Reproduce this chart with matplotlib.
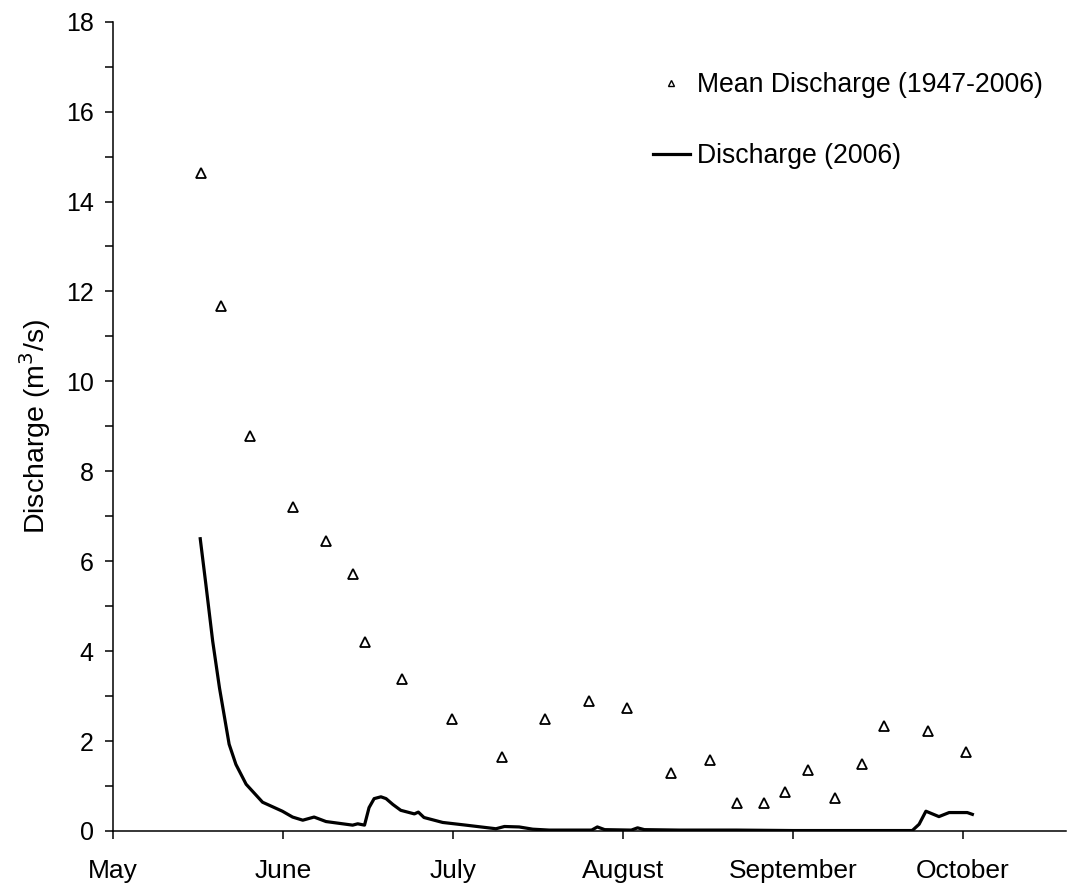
import matplotlib
matplotlib.use("Agg")
import matplotlib.pyplot as plt
from matplotlib.lines import Line2D
from matplotlib.ticker import MultipleLocator

plt.rcParams['font.family'] = ['Liberation Sans', 'DejaVu Sans']

# Mean discharge (1947-2006): day offset from May 1, value (m3/s)
mean_days = [15.6, 19.1, 24.1, 31.8, 37.6, 42.4, 44.4, 51.1, 59.8, 68.6, 76.2,
             84.0, 90.7, 98.5, 105.3, 110.1, 114.9, 118.7, 122.7, 127.4, 132.2,
             136.1, 143.8, 150.6]
mean_vals = [14.63, 11.67, 8.78, 7.21, 6.44, 5.71, 4.21, 3.38, 2.50, 1.65, 2.48,
             2.90, 2.73, 1.28, 1.57, 0.63, 0.63, 0.87, 1.35, 0.73, 1.48,
             2.33, 2.22, 1.76]

# Discharge 2006
q_days = [15.4, 16.4, 17.6, 18.8, 20.5, 21.7, 23.5, 26.4, 29.9, 31.7, 33.5, 35.5,
          37.6, 42.3, 43.2, 44.4, 45.2, 46.1, 47.3, 48.2, 49.4, 50.8, 53.2, 53.9,
          54.9, 58.2, 62.3, 67.6, 69.1, 71.7, 74.1, 77.0, 84.5, 85.5, 86.8, 91.5,
          92.6, 93.8, 100.0, 110.0, 120.0, 130.0, 141.1, 142.3, 143.5, 145.8,
          147.6, 150.8, 151.7]
q_vals = [6.50, 5.48, 4.22, 3.18, 1.93, 1.48, 1.04, 0.64, 0.44, 0.31, 0.24, 0.31,
          0.21, 0.13, 0.16, 0.13, 0.52, 0.72, 0.76, 0.72, 0.59, 0.46, 0.38, 0.42,
          0.30, 0.19, 0.13, 0.05, 0.10, 0.09, 0.04, 0.02, 0.02, 0.09, 0.03, 0.02,
          0.07, 0.03, 0.02, 0.02, 0.01, 0.01, 0.01, 0.15, 0.44, 0.32,
          0.41, 0.41, 0.37]

month_ticks = [0, 30, 60, 90, 120, 150]
month_labels = ['May', 'June', 'July', 'August', 'September', 'October']

fig = plt.figure(figsize=(10.67, 8.88), dpi=100)
ax = fig.add_axes([0.1059, 0.0642, 0.893, 0.9114])

ax.plot(q_days, q_vals, color='black', lw=2.3, solid_joinstyle='round',
        label='Discharge (2006)')
ax.plot(mean_days, mean_vals, linestyle='none', marker='^', markersize=7.5,
        markerfacecolor='white', markeredgecolor='black', markeredgewidth=1.3)

ax.set_xlim(0, 168.2)
ax.set_ylim(0, 18)
ax.set_xticks(month_ticks)
ax.set_xticklabels(month_labels)
ax.yaxis.set_major_locator(MultipleLocator(2))
ax.yaxis.set_minor_locator(MultipleLocator(1))
ax.tick_params(axis='both', which='major', direction='out',
               length=6, width=1.1, color='black')
ax.tick_params(axis='y', which='major', labelsize=18, pad=8)
ax.tick_params(axis='x', which='major', labelsize=19, pad=14)
ax.tick_params(axis='y', which='minor', direction='out', length=6, width=1.1)
for s in ['top', 'right']:
    ax.spines[s].set_visible(False)
for s in ['left', 'bottom']:
    ax.spines[s].set_linewidth(1.1)
ax.set_ylabel('Discharge (m$^3$/s)', fontsize=20.5, labelpad=9)

h1 = Line2D([], [], linestyle='none', marker='^', markersize=5,
            markerfacecolor='white', markeredgecolor='black', markeredgewidth=1.0)
h2 = Line2D([], [], color='black', lw=2.3)
ax.legend([h1, h2], ['Mean Discharge (1947-2006)', 'Discharge (2006)'],
          loc='upper left', bbox_to_anchor=(0.5666, 0.9372), frameon=False,
          fontsize=19.2, handlelength=1.39, handletextpad=0.26,
          labelspacing=1.67, borderpad=0, borderaxespad=0)

fig.savefig('out.png', dpi=100)
